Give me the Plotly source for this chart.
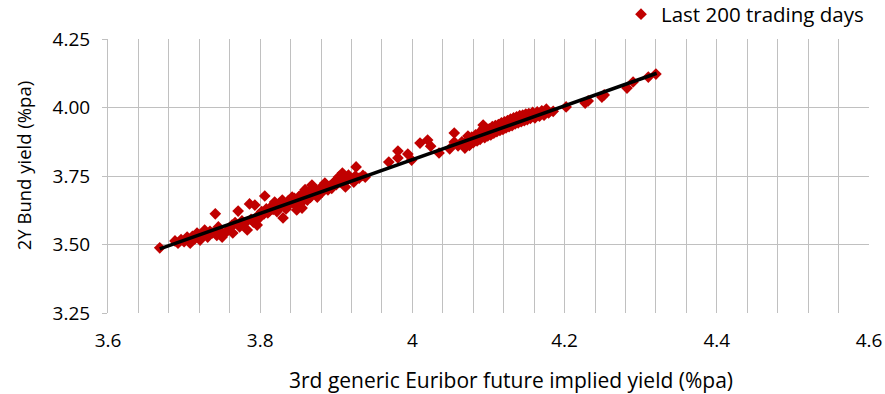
import plotly.graph_objects as go

# Last 200 trading days: 3rd generic Euribor future implied yield (x) vs 2Y Bund yield (y)
region_a_x = [3.668, 3.688, 3.692, 3.696, 3.700, 3.704, 3.708, 3.711, 3.714, 3.717, 3.721, 3.724, 3.727,
              3.731, 3.734, 3.737, 3.741, 3.743, 3.745, 3.748, 3.750, 3.754, 3.758, 3.761, 3.763, 3.764,
              3.767, 3.771, 3.773, 3.776, 3.780, 3.783, 3.786, 3.788, 3.791, 3.793, 3.796, 3.798]
region_a_y = [3.488, 3.513, 3.505, 3.518, 3.510, 3.527, 3.505, 3.530, 3.520, 3.542, 3.516, 3.535, 3.553,
              3.527, 3.548, 3.542, 3.612, 3.533, 3.564, 3.548, 3.527, 3.542, 3.553, 3.562, 3.571, 3.542,
              3.580, 3.622, 3.564, 3.586, 3.578, 3.553, 3.648, 3.592, 3.582, 3.644, 3.597, 3.608]

region_b_x = [3.796, 3.800, 3.802, 3.805, 3.806, 3.808, 3.810, 3.812, 3.815, 3.817, 3.819, 3.820, 3.822,
              3.823, 3.825, 3.827, 3.829, 3.830, 3.832, 3.834, 3.835, 3.837, 3.839, 3.842, 3.843, 3.845,
              3.846, 3.848, 3.849, 3.851, 3.853, 3.855, 3.856, 3.857, 3.859, 3.861, 3.862, 3.864, 3.866,
              3.868, 3.869, 3.870, 3.872, 3.875, 3.877, 3.879, 3.881, 3.884, 3.885, 3.887, 3.889, 3.891,
              3.894, 3.896, 3.898, 3.900, 3.903, 3.905, 3.908, 3.910, 3.912, 3.914, 3.916, 3.918, 3.921,
              3.923, 3.925, 3.926, 3.930, 3.935, 3.938]
region_b_y = [3.571, 3.600, 3.620, 3.612, 3.677, 3.630, 3.615, 3.622, 3.640, 3.628, 3.655, 3.645, 3.620,
              3.633, 3.650, 3.640, 3.662, 3.597, 3.645, 3.630, 3.651, 3.660, 3.648, 3.673, 3.655, 3.668,
              3.644, 3.626, 3.660, 3.675, 3.650, 3.633, 3.688, 3.670, 3.700, 3.680, 3.662, 3.690, 3.672,
              3.717, 3.692, 3.705, 3.685, 3.673, 3.695, 3.706, 3.690, 3.710, 3.724, 3.715, 3.699, 3.712,
              3.705, 3.724, 3.730, 3.718, 3.746, 3.728, 3.761, 3.740, 3.710, 3.735, 3.753, 3.742, 3.735,
              3.728, 3.750, 3.783, 3.742, 3.752, 3.746]

region_c_x = [3.969, 3.981, 3.981, 3.994, 3.999, 4.010, 4.020, 4.024, 4.035, 4.049, 4.055, 4.055, 4.060,
              4.065, 4.069, 4.073]
region_c_y = [3.801, 3.841, 3.816, 3.830, 3.808, 3.870, 3.881, 3.859, 3.834, 3.849, 3.907, 3.874, 3.860,
              3.875, 3.852, 3.896]

region_d_x = [4.072, 4.075, 4.078, 4.080, 4.083, 4.085, 4.087, 4.089, 4.091, 4.093, 4.094, 4.095, 4.097,
              4.099, 4.101, 4.103, 4.105, 4.107, 4.109, 4.111, 4.113, 4.115, 4.117, 4.119, 4.121, 4.123,
              4.125, 4.127, 4.129, 4.131, 4.133, 4.135, 4.137, 4.139, 4.141, 4.143, 4.145, 4.147, 4.149,
              4.151, 4.153, 4.155, 4.158, 4.161, 4.164, 4.167, 4.170, 4.173, 4.176, 4.179, 4.185]
region_d_y = [3.880, 3.862, 3.892, 3.872, 3.900, 3.878, 3.906, 3.884, 3.912, 3.936, 3.926, 3.890, 3.916,
              3.896, 3.922, 3.900, 3.930, 3.906, 3.934, 3.912, 3.938, 3.916, 3.944, 3.920, 3.948, 3.926,
              3.952, 3.930, 3.958, 3.934, 3.962, 3.940, 3.966, 3.944, 3.970, 3.948, 3.972, 3.952, 3.976,
              3.956, 3.978, 3.960, 3.982, 3.962, 3.984, 3.968, 3.988, 3.972, 3.994, 3.980, 3.986]

region_e_x = [4.202, 4.227, 4.231, 4.249, 4.252, 4.282, 4.290, 4.310, 4.320]
region_e_y = [4.002, 4.016, 4.024, 4.038, 4.046, 4.071, 4.093, 4.111, 4.122]

# Linear trend line end points
trend_x = [3.668, 4.321]
trend_y = [3.484, 4.125]

series_name = "Last 200 trading days"
x_title = "3rd generic Euribor future implied yield (%pa)"
y_title = "2Y Bund yield (%pa)"

xs = region_a_x + region_b_x + region_c_x + region_d_x + region_e_x
ys = region_a_y + region_b_y + region_c_y + region_d_y + region_e_y

FONT = "Open Sans"
RED = "#c00000"
GRID = "#c0c0c0"

fig = go.Figure()
fig.add_trace(go.Scatter(
    x=xs, y=ys, mode="markers", name=series_name,
    marker=dict(symbol="diamond", size=9, color=RED, line=dict(width=0)),
))
fig.add_trace(go.Scatter(
    x=trend_x, y=trend_y, mode="lines", showlegend=False,
    line=dict(color="black", width=3.5), hoverinfo="skip",
))

fig.update_layout(
    width=885, height=394,
    margin=dict(l=108, r=16, t=39, b=81, autoexpand=False),
    paper_bgcolor="white", plot_bgcolor="white",
    font=dict(family=FONT, size=18, color="#000000"),
    showlegend=True,
    hovermode=False,
    legend=dict(x=1.0, xanchor="right", y=1.09, yanchor="middle",
                font=dict(family=FONT, size=20.5), bgcolor="rgba(0,0,0,0)",
                itemwidth=30, tracegroupgap=0, borderwidth=0),
    annotations=[
        dict(text=x_title, xref="paper", yref="paper", x=0.5296, y=-0.2445,
             xanchor="center", yanchor="middle", showarrow=False,
             font=dict(family=FONT, size=21)),
        dict(text=y_title, xref="paper", yref="paper", x=-0.11, y=0.5365,
             xanchor="center", yanchor="middle", showarrow=False, textangle=-90,
             font=dict(family=FONT, size=18.5)),
    ],
)
fig.update_xaxes(
    range=[3.6, 4.6], dtick=0.2, tick0=3.6,
    showgrid=True, gridcolor=GRID, gridwidth=1,
    minor=dict(dtick=0.04, showgrid=True, gridcolor=GRID, gridwidth=1),
    showline=False, zeroline=False, ticks="", automargin=False,
    ticklabelstandoff=14,
    tickfont=dict(family=FONT, size=19),
)
fig.update_yaxes(
    range=[3.25, 4.25], dtick=0.25, tick0=3.25, tickformat=".2f",
    showgrid=True, gridcolor=GRID, gridwidth=1,
    showline=True, linecolor=GRID, linewidth=1, zeroline=False,
    ticks="outside", ticklen=5, tickcolor=GRID, automargin=False,
    ticklabelstandoff=8,
    tickfont=dict(family=FONT, size=19),
)

# remove the browser's default 8px body margin so the figure fills the window exactly
fig.write_html("out.html", config={"displayModeBar": False},
               post_script="document.body.style.margin='0';")
